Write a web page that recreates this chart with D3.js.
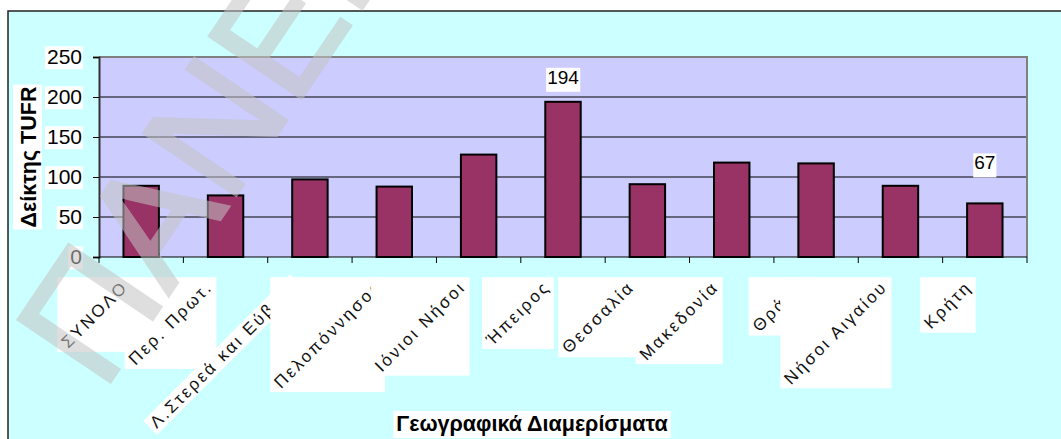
<!DOCTYPE html>
<html>
<head>
<meta charset="utf-8">
<script src="https://cdn.jsdelivr.net/npm/d3@7"></script>
<style>
    body { margin: 0; background: #fff; }
    svg { display: block; font-family: "Liberation Sans", Arial, sans-serif; }
</style>
</head>
<body>
<div id="chart"></div>
<script>
// data
var regions = ["ΣΥΝΟΛΟ", "Περ. Πρωτ.", "Λ.Στερεά και Εύβοια", "Πελοπόννησος", "Ιόνιοι Νήσοι",
    "Ήπειρος", "Θεσσαλία", "Μακεδονία", "Θράκη", "Νήσοι Αιγαίου", "Κρήτη"];
var tufr = [89, 77, 97, 88, 128, 194, 91, 118, 117, 89, 67];
var yTicks = [0, 50, 100, 150, 200, 250];
var labelled = ["Ήπειρος", "Κρήτη"];
var yTitle = "Δείκτης TUFR";
var xTitle = "Γεωγραφικά Διαμερίσματα";
var watermark = "ΠΑΝΕΠΙΣΤΗΜΙΟ";

var W = 1061, H = 439;
var plot = { left: 99, right: 1027, top: 57, bottom: 257 };

var svg = d3.select('#chart').append('svg')
    .attr('width', W)
    .attr('height', H);

svg.append('rect').attr('width', W).attr('height', H).attr('fill', '#fff');

// chart area (its right and bottom edges fall outside the window)
svg.append('rect')
    .attr('x', 8).attr('y', 11)
    .attr('width', W).attr('height', H)
    .attr('fill', '#ccffff')
    .attr('stroke', '#222')
    .attr('stroke-width', 1.5);

var x = d3.scaleBand()
    .domain(regions)
    .range([plot.left, plot.right])
    .padding(0);

var y = d3.scaleLinear()
    .domain([0, 250])
    .range([plot.bottom, plot.top]);

svg.append('rect')
    .attr('x', plot.left).attr('y', plot.top)
    .attr('width', plot.right - plot.left)
    .attr('height', plot.bottom - plot.top)
    .attr('fill', '#ccccff');

// gridlines
svg.append('g')
    .selectAll('line')
    .data(yTicks.filter(function (d) { return d > 0 && d < 250; }))
    .enter().append('line')
    .attr('x1', plot.left).attr('x2', plot.right)
    .attr('y1', function (d) { return y(d); })
    .attr('y2', function (d) { return y(d); })
    .attr('stroke', '#000')
    .attr('stroke-width', 1);

// top and right frame
svg.append('path')
    .attr('d', 'M' + plot.left + ',' + plot.top + 'H' + plot.right + 'V' + plot.bottom)
    .attr('fill', 'none')
    .attr('stroke', '#808080')
    .attr('stroke-width', 2);

// bars
var bw = x.bandwidth() * 0.42;
svg.append('g')
    .selectAll('rect')
    .data(regions)
    .enter().append('rect')
    .attr('x', function (d) { return x(d) + (x.bandwidth() - bw) / 2; })
    .attr('y', function (d, i) { return y(tufr[i]); })
    .attr('width', bw)
    .attr('height', function (d, i) { return y(0) - y(tufr[i]); })
    .attr('fill', '#993366')
    .attr('stroke', '#000')
    .attr('stroke-width', 2);

// y axis
var yAxis = svg.append('g')
    .attr('transform', 'translate(' + plot.left + ',0)')
    .call(d3.axisLeft(y).tickValues(yTicks).tickSize(6).tickPadding(11));
yAxis.attr('font-size', 21).attr('font-family', '"Liberation Sans", Arial, sans-serif');
yAxis.select('.domain').attr('stroke', '#333').attr('stroke-width', 2);
yAxis.selectAll('.tick line').attr('stroke', '#000');
yAxis.selectAll('.tick text').attr('fill', '#000');
yAxis.selectAll('.tick').each(function () {
    var t = d3.select(this).select('text');
    var b = t.node().getBBox();
    d3.select(this).insert('rect', 'text')
        .attr('x', b.x - 2).attr('y', b.y + 1)
        .attr('width', b.width + 3).attr('height', b.height)
        .attr('fill', '#fff');
});

// x axis line and ticks
var xAxis = svg.append('g')
    .attr('transform', 'translate(0,' + plot.bottom + ')');
xAxis.append('line')
    .attr('x1', plot.left).attr('x2', plot.right)
    .attr('stroke', '#000').attr('stroke-width', 1.2);
xAxis.selectAll('.tk')
    .data(regions.concat(['end']))
    .enter().append('line')
    .attr('x1', function (d, i) { return plot.left + i * x.step(); })
    .attr('x2', function (d, i) { return plot.left + i * x.step(); })
    .attr('y1', 0).attr('y2', 6)
    .attr('stroke', '#000');

// category labels, rotated, each on its own white box
var fs = 17, asc = 0.9 * fs, desc = 0.24 * fs, k = Math.SQRT1_2;
var xl = svg.append('g').attr('font-size', fs).attr('fill', '#111');
regions.forEach(function (name) {
    var cx = x(name) + x.bandwidth() / 2;
    var px = cx - 12, py = 288;
    var g = xl.append('g');
    var box = g.append('rect').attr('fill', '#fff');
    var tg = g.append('g')
        .attr('transform', 'translate(' + px + ',' + py + ') rotate(-45)');
    var t = tg.append('text')
        .attr('x', 0).attr('y', 0)
        .attr('text-anchor', 'end')
        .attr('letter-spacing', 2.5)
        .text(name);
    var L = t.node().getComputedTextLength();
    if (L > 170) {
        box.attr('transform', 'translate(' + px + ',' + py + ') rotate(-45)')
            .attr('x', -L - 4).attr('y', -asc)
            .attr('width', L + 8).attr('height', asc + desc);
    } else {
        box.attr('x', px - k * (L + asc))
            .attr('y', py - k * asc)
            .attr('width', k * (L + asc + desc))
            .attr('height', k * (L + asc + desc));
    }
});

// value labels
var lift = { "Ήπειρος": 18, "Κρήτη": 34 };
var vl = svg.append('g').attr('font-size', 19);
labelled.forEach(function (name) {
    var v = tufr[regions.indexOf(name)];
    var g = vl.append('g');
    var t = g.append('text')
        .attr('x', x(name) + x.bandwidth() / 2)
        .attr('y', y(v) - lift[name])
        .attr('text-anchor', 'middle')
        .text(v);
    var b = t.node().getBBox();
    g.insert('rect', 'text')
        .attr('x', b.x - 1).attr('y', b.y + 1)
        .attr('width', b.width + 2).attr('height', b.height + 3)
        .attr('fill', '#fff');
});

// axis titles
var yt = svg.append('g');
var ytText = yt.append('text')
    .attr('transform', 'translate(36,157) rotate(-90)')
    .attr('text-anchor', 'middle')
    .attr('font-size', 21.5)
    .attr('font-weight', 'bold')
    .text(yTitle);
var ytLen = ytText.node().getComputedTextLength();
yt.insert('rect', 'text')
    .attr('x', 13).attr('y', 157 - ytLen / 2 - 2)
    .attr('width', 29).attr('height', ytLen + 4)
    .attr('fill', '#fff');

var xt = svg.append('g');
var xtText = xt.append('text')
    .attr('x', (plot.left + plot.right) / 2 - 31)
    .attr('y', 431)
    .attr('text-anchor', 'middle')
    .attr('font-size', 21.5)
    .attr('font-weight', 'bold')
    .text(xTitle);
var xb = xtText.node().getBBox();
xt.insert('rect', 'text')
    .attr('x', xb.x - 3).attr('y', xb.y - 1)
    .attr('width', xb.width + 6).attr('height', H - xb.y)
    .attr('fill', '#fff');

// watermark over everything
svg.append('text')
    .attr('transform', 'translate(103,393) rotate(-56)')
    .attr('font-size', 162)
    .attr('fill', 'rgb(196,196,196)')
    .attr('stroke', 'rgb(196,196,196)')
    .attr('stroke-width', 3)
    .attr('opacity', 0.55)
    .text(watermark);
</script>
</body>
</html>
